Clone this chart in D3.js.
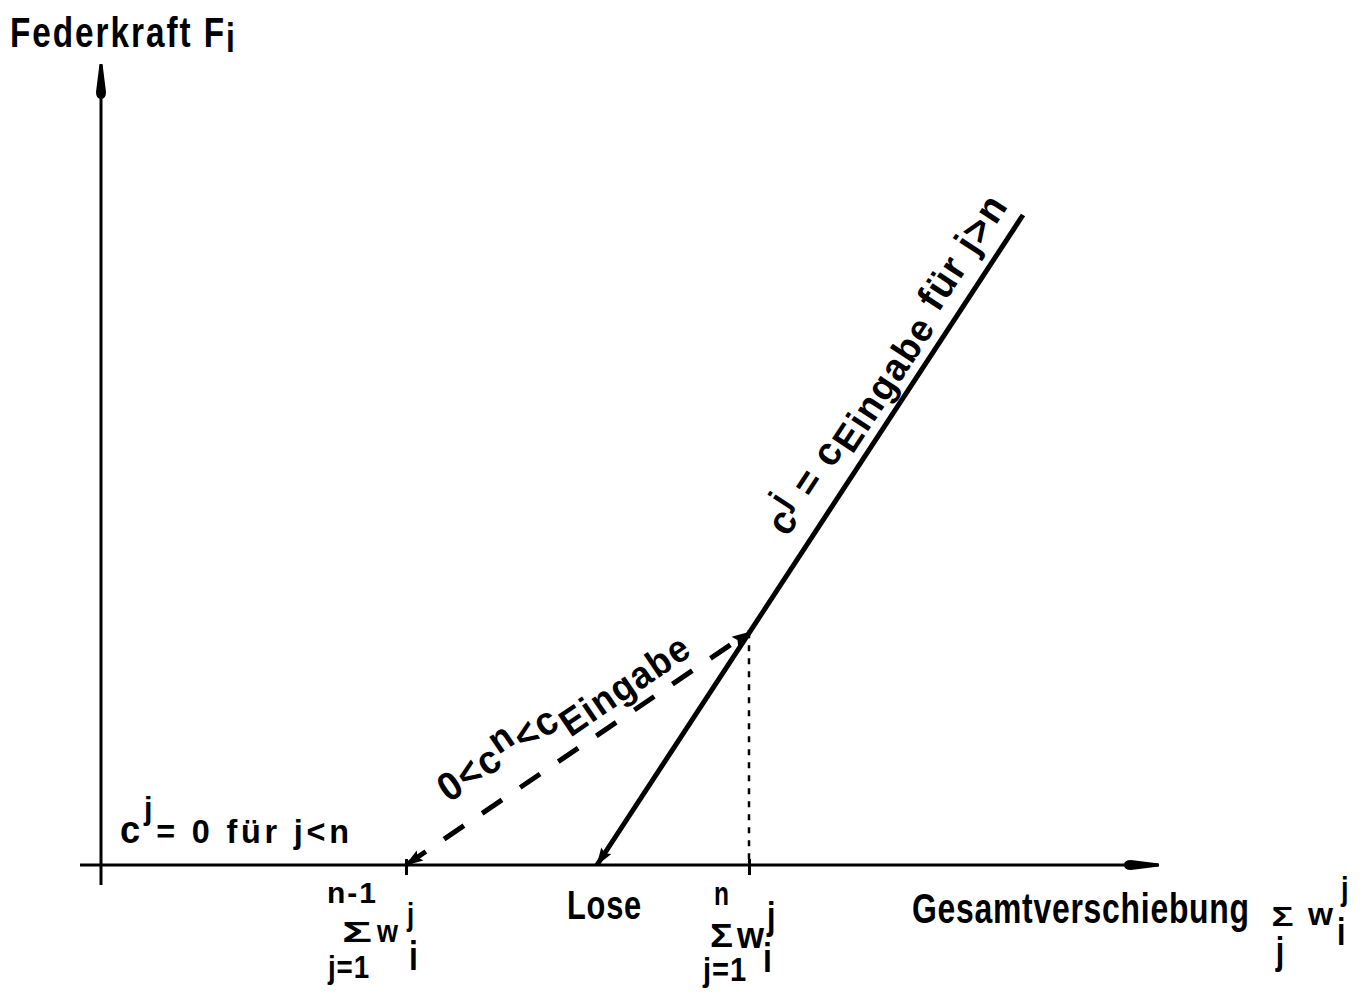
<!DOCTYPE html>
<html>
<head>
<meta charset="utf-8">
<script src="https://cdn.jsdelivr.net/npm/d3@7"></script>
<style>
    body { margin: 0; background: #fff; }
    svg { display: block; }
    text {
        font-family: "Liberation Sans", Arial, sans-serif;
        font-weight: bold;
        fill: #000;
    }
</style>
</head>
<body>
<div class="canvas"></div>
<script>
// values (arbitrary units: displacement on x, spring force on y)
const tickNames = ['n-1', 'Lose', 'n']
const tickValues = [30.5, 49.6, 64.8]
const sumUpper = ['n-1', null, 'n']

// dashed branch 0 < c^n < cEingabe
const loadX = [30.5, 64.8]
const loadY = [0, 29.1]

// solid branch c^j = cEingabe (drawn from top down to "Lose")
const springX = [92.2, 49.6]
const springY = [81.25, 0]

const xExtent = [-2.1, 105.7]
const yExtent = [-2.5, 100]

const dims = { width: 1367, height: 997 }

const svg = d3.select('.canvas')
    .append('svg')
    .attr('width', dims.width)
    .attr('height', dims.height)

svg.append('rect')
    .attr('width', dims.width)
    .attr('height', dims.height)
    .attr('fill', '#fff')

// scales
const x = d3.scaleLinear().domain([0, 100]).range([101, 1101])
const y = d3.scaleLinear().domain([0, 100]).range([865, 65])

// arrow markers
const defs = svg.append('defs')

defs.append('marker')
    .attr('id', 'axis-arrow')
    .attr('viewBox', '-36 -7 38 14')
    .attr('refX', 0).attr('refY', 0)
    .attr('markerWidth', 38).attr('markerHeight', 14)
    .attr('markerUnits', 'userSpaceOnUse')
    .attr('orient', 'auto')
    .append('path')
    .attr('d', 'M1,-1.5 L-27,-5 Q-34,-5 -34,0 Q-34,5 -27,5 L1,1.5 Z')
    .attr('fill', '#000')

defs.append('marker')
    .attr('id', 'line-arrow')
    .attr('viewBox', '-20 -7 22 14')
    .attr('refX', 0).attr('refY', 0)
    .attr('markerWidth', 22).attr('markerHeight', 14)
    .attr('markerUnits', 'userSpaceOnUse')
    .attr('orient', 'auto-start-reverse')
    .append('path')
    .attr('d', 'M1,0 L-17,-6 L-14,0 L-17,6 Z')
    .attr('fill', '#000')

// axes
svg.append('line')
    .attr('x1', x(xExtent[0])).attr('y1', y(0))
    .attr('x2', x(xExtent[1])).attr('y2', y(0))
    .attr('stroke', '#000').attr('stroke-width', 3)
    .attr('marker-end', 'url(#axis-arrow)')

svg.append('line')
    .attr('x1', x(0)).attr('y1', y(yExtent[0]))
    .attr('x2', x(0)).attr('y2', y(yExtent[1]))
    .attr('stroke', '#000').attr('stroke-width', 3)
    .attr('marker-end', 'url(#axis-arrow)')

// ticks at the two sums
const ticks = svg.append('g')
    .attr('transform', `translate(0, ${y(0) - 6})`)
    .call(d3.axisBottom(x)
        .tickValues(tickValues.filter((d, i) => sumUpper[i]))
        .tickSize(16)
        .tickFormat(''))
ticks.select('.domain').remove()
ticks.selectAll('.tick line').attr('stroke', '#000').attr('stroke-width', 3)

// dotted drop line from the knee
svg.append('line')
    .attr('x1', x(loadX[1])).attr('y1', y(loadY[1]))
    .attr('x2', x(loadX[1])).attr('y2', y(0))
    .attr('stroke', '#000').attr('stroke-width', 2.5)
    .attr('stroke-dasharray', '6 7')

// lines
const line = d3.line()
    .x(d => x(d[0]))
    .y(d => y(d[1]))

const loadPts = d3.zip(loadX, loadY)
const springPts = d3.zip(springX, springY)

svg.append('path')
    .attr('d', line(loadPts))
    .attr('fill', 'none')
    .attr('stroke', '#000').attr('stroke-width', 5)
    .attr('stroke-dasharray', '24 22')
    .attr('marker-start', 'url(#line-arrow)')
    .attr('marker-end', 'url(#line-arrow)')

svg.append('path')
    .attr('d', line(springPts))
    .attr('fill', 'none')
    .attr('stroke', '#000').attr('stroke-width', 5)
    .attr('marker-end', 'url(#line-arrow)')

// text helpers ---------------------------------------------------------

// parts = [text, baseline shift, font size]
const rich = (parts, anchor = 'start') => {
    const t = svg.append('text').attr('text-anchor', anchor)
    let prev = 0
    parts.forEach(([s, shift, size]) => {
        t.append('tspan')
            .attr('dy', shift - prev)
            .attr('font-size', size)
            .text(s)
        prev = shift
    })
    return t
}

// squeeze a text horizontally to the lettering width of the drawing
const fit = (t, width, px, py, angle = 0) => {
    const s = width ? width / t.node().getComputedTextLength() : 0.8
    t.attr('transform', `translate(${px}, ${py}) rotate(${angle}) scale(${s}, 1)`)
    return t
}

// position along a segment (pixel space)
const along = (p0, p1, dist, perp) => {
    const dx = p1[0] - p0[0], dy = p1[1] - p0[1]
    const len = Math.hypot(dx, dy)
    const ux = dx / len, uy = dy / len
    return {
        x: p0[0] + ux * dist + uy * perp,
        y: p0[1] + uy * dist - ux * perp,
        angle: Math.atan2(dy, dx) * 180 / Math.PI
    }
}

// axis titles
fit(rich([['Federkraft F', 0, 42], ['i', 5, 40]]).attr('letter-spacing', 2.5), 227, 10, 47)

fit(rich([['Gesamtverschiebung', 0, 42]]).attr('letter-spacing', 1), 338, 912, 923)

fit(rich([['Σ', 0, 28]], 'middle'), 22, 1282.5, 926)
fit(rich([['j', 0, 38]], 'middle'), null, 1280, 964)
fit(rich([['w', 0, 31]]), 25, 1308, 925)
fit(rich([['j', 0, 34]]), null, 1341, 900)
fit(rich([['i', 0, 38]]), null, 1337, 945)

// region label left
fit(rich([['c', 0, 38], ['j', -24, 32], ['= 0 für  j<n', 0, 34]]).attr('letter-spacing', 4), 233, 120, 843)

// tick labels: [x offset, baseline, font size, width]
const sumLayout = {
    'n-1': {
        upper: [-53.5, 903, 30, 51], sigma: [-49, 942, 29, 30], w: [-29, 942, 32, 21],
        sup: [1, 925, 32], sub: [3, 970, 40], lower: [-57, 978, 32, 42]
    },
    'n': {
        upper: [-27.5, 905, 33, 15], sigma: [-27.5, 947, 33, 23], w: [-12, 948, 37, 27],
        sup: [18, 929, 38], sub: [14, 972, 40], lower: [-24, 981, 33, 44]
    }
}

tickNames.forEach((name, i) => {
    const tx = x(tickValues[i])
    if (!sumUpper[i]) {
        fit(rich([[name, 0, 40]], 'middle').attr('letter-spacing', 1), 75, tx + 7.5, 919)
        return
    }
    const L = sumLayout[name]
    fit(rich([[sumUpper[i], 0, L.upper[2]]], 'middle').attr('letter-spacing', sumUpper[i].length > 1 ? 2 : 0),
        L.upper[3], tx + L.upper[0], L.upper[1])
    fit(rich([['Σ', 0, L.sigma[2]]], 'middle'), L.sigma[3], tx + L.sigma[0], L.sigma[1])
    fit(rich([['w', 0, L.w[2]]]), L.w[3], tx + L.w[0], L.w[1])
    fit(rich([['j', 0, L.sup[2]]]), null, tx + L.sup[0], L.sup[1])
    fit(rich([['i', 0, L.sub[2]]]), null, tx + L.sub[0], L.sub[1])
    fit(rich([['j=1', 0, L.lower[2]]], 'middle').attr('letter-spacing', 1), L.lower[3], tx + L.lower[0], L.lower[1])
})

// rotated labels along the two branches
const springP = springPts.map(d => [x(d[0]), y(d[1])]).reverse()
const sp = along(springP[0], springP[1], 378, 20)
fit(rich([
    ['c', 0, 40],
    ['j', -16, 34],
    [' = c', 0, 40],
    ['Eingabe', 9, 38],
    [' für j>n', 3, 40]
]).attr('letter-spacing', 1.5), 400, sp.x, sp.y, sp.angle)

const loadP = loadPts.map(d => [x(d[0]), y(d[1])])
const lp = along(loadP[0], loadP[1], 70, 27)
fit(rich([
    ['0<c', 0, 40],
    ['n', -12, 38],
    ['<c', 0, 40],
    ['Eingabe', 14, 38]
]).attr('letter-spacing', 1.5), 287, lp.x, lp.y, lp.angle)
</script>
</body>
</html>
